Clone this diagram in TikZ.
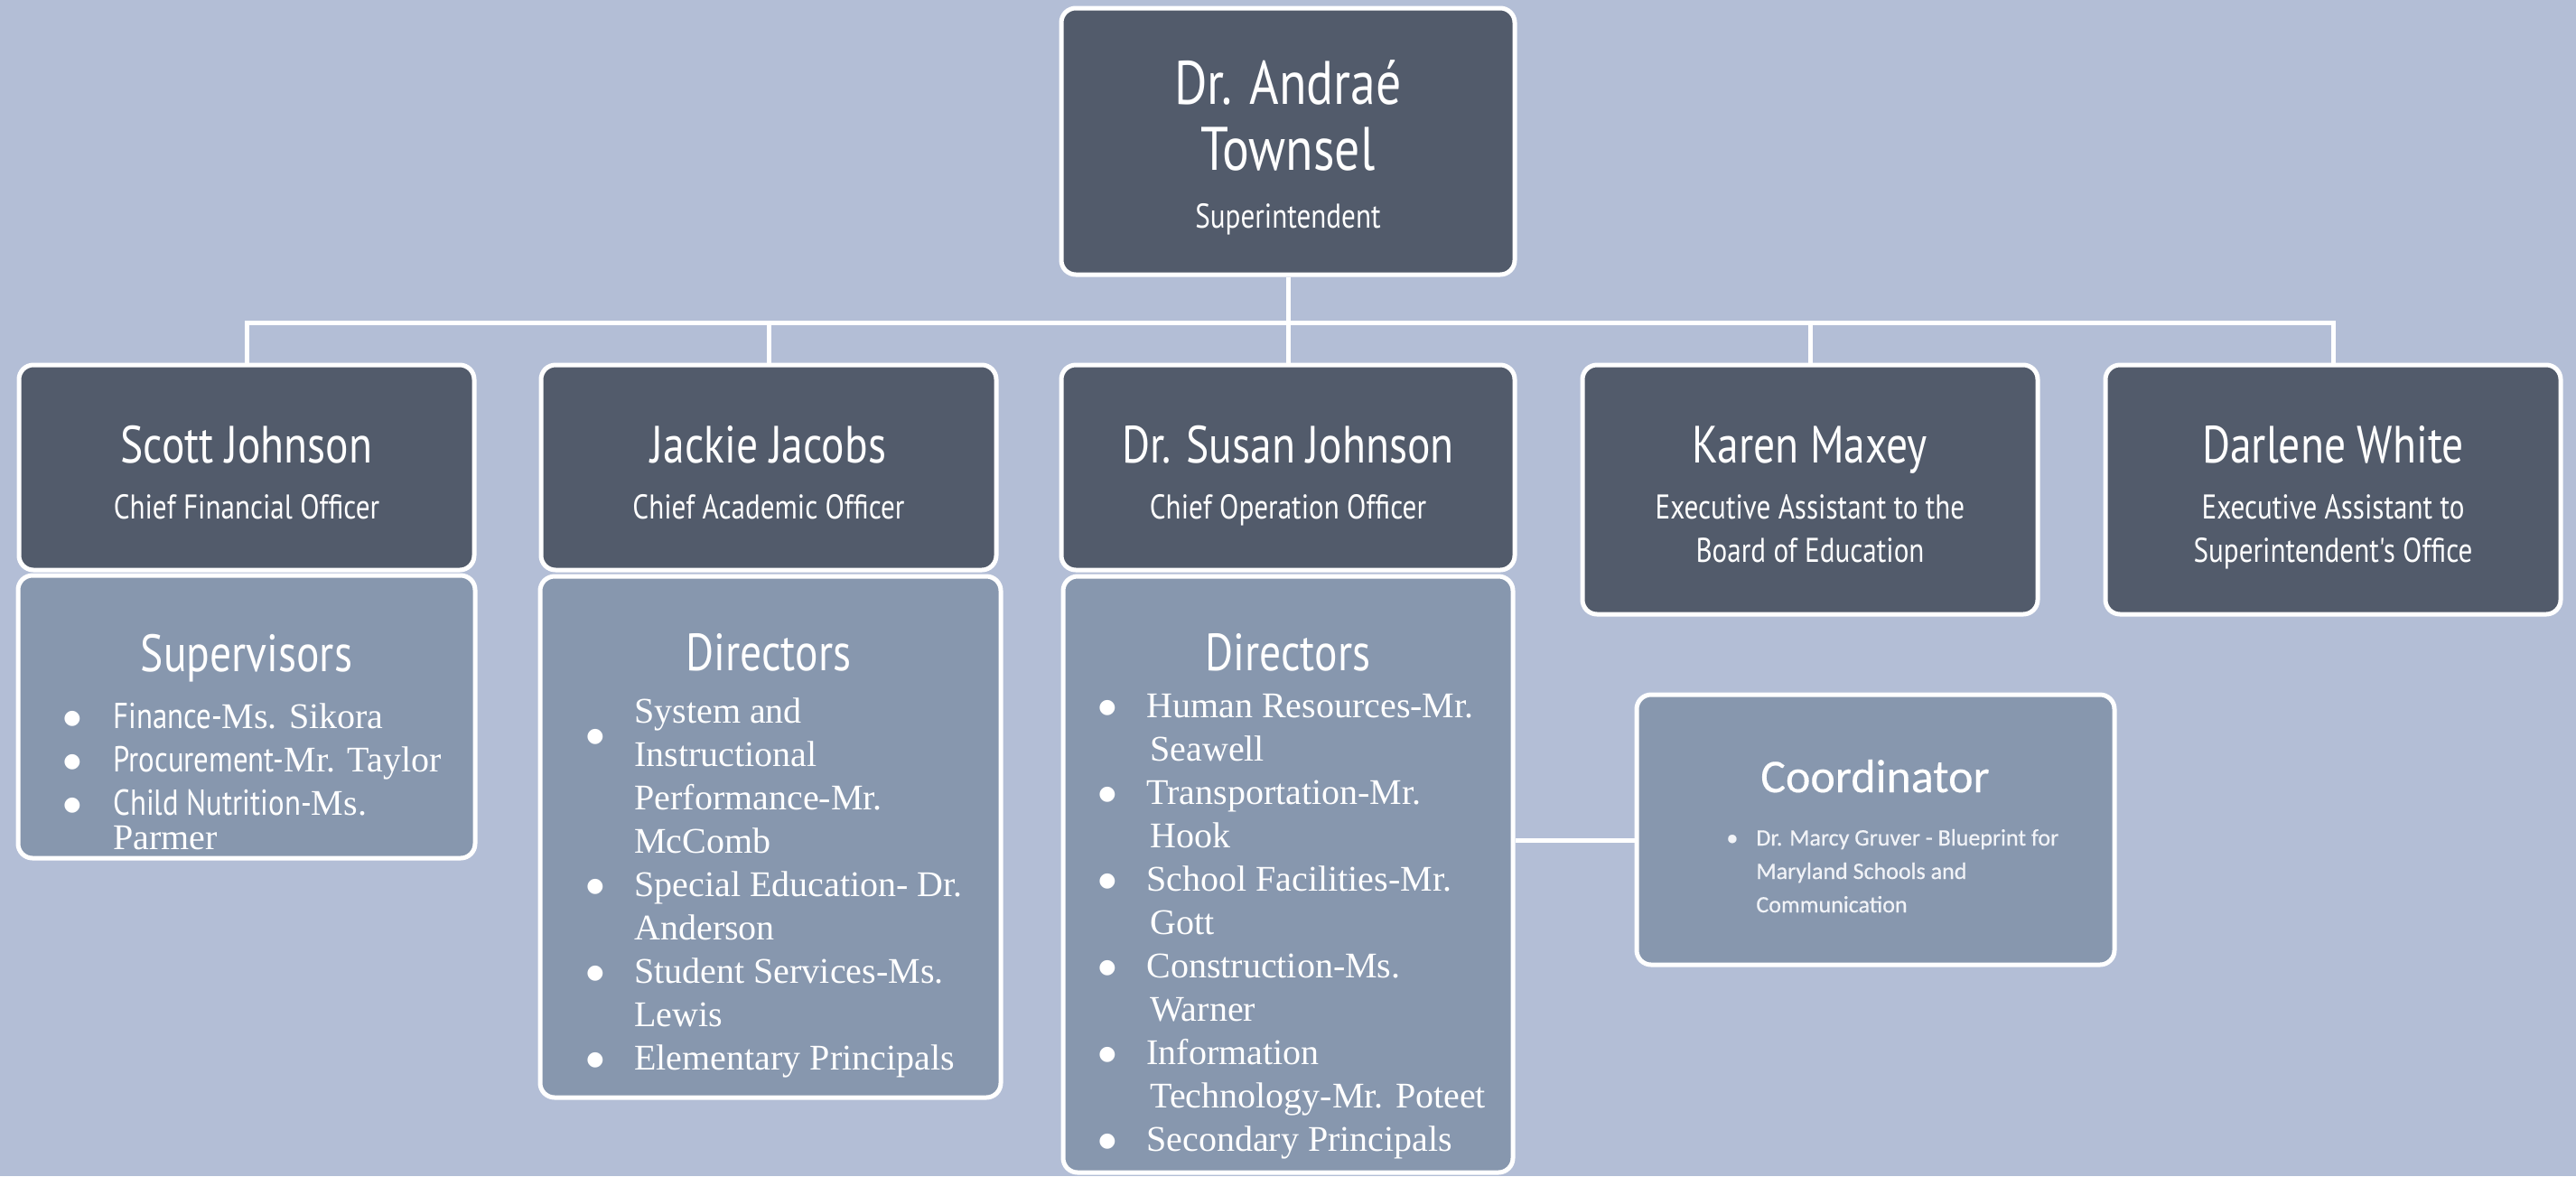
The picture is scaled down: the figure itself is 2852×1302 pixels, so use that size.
\documentclass[tikz,border=0pt]{standalone}
\usepackage{fontspec}
\setmainfont{Liberation Serif}
\newfontfamily\headfont[FakeStretch=0.82]{PT Sans}
\newfontfamily\calfont[FakeBold=0.3]{Carlito}
\newfontfamily\calheavy[FakeBold=0.6]{Carlito}
\newfontfamily\dotfont{DejaVu Sans}
\usetikzlibrary{positioning}

\definecolor{pagebg}{HTML}{B3BED6}
\definecolor{cardfill}{HTML}{525B6B}
\definecolor{panelfill}{HTML}{8797AE}
\definecolor{softwhite}{HTML}{F1F3F7}

\newcommand{\itm}[1][25.5pt]{\makebox[#1][l]{\raisebox{2.2pt}{\dotfont\fontsize{11}{11}\selectfont ●}}}

\begin{document}
\begin{tikzpicture}[x=0.5pt, y=-0.5pt,
	card/.style={draw=white, line width=2.5pt, rounded corners=8pt, fill=cardfill, inner sep=0pt, minimum width=252pt, minimum height=#1},
	panel/.style={draw=white, line width=2.5pt, rounded corners=8pt, fill=panelfill, inner sep=0pt},
	wire/.style={white, line width=2.5pt},
	who/.style={text=white, inner sep=0pt, anchor=base, font=\headfont\fontsize{29}{34}\selectfont},
	role/.style={text=white, inner sep=0pt, anchor=base, font=\headfont\fontsize{19}{24}\selectfont},
	unit/.style={text=white, inner sep=0pt, anchor=base, font=\headfont\fontsize{29}{34}\selectfont},
	roster/.style={text=white, inner sep=0pt, anchor=base west, font=\fontsize{20}{24}\selectfont}]

	\fill[pagebg] (0,0) rectangle (2852,1302);
	\useasboundingbox (0,0) rectangle (2852,1302);

	% top level and first row
	\node[card=147.5pt, minimum width=251pt] (super) at (1426,156.5) {};
	\node[card=113.5pt] (scott) at (273,517.5) {};
	\node[card=113.5pt] (jackie) at (851,517.5) {};
	\node[card=113.5pt, minimum width=251pt] (susan) at (1426,517.5) {};
	\node[card=138pt] (karen) at (2004,542) {};
	\node[card=138pt] (darlene) at (2583,542) {};

	% lists under the officers
	\node[panel, minimum width=253pt, minimum height=156.5pt] (scottsup) at (273,793.5) {};
	\node[panel, minimum width=255pt, minimum height=288.5pt] (jackiedir) at (853,926.5) {};
	\node[panel, minimum width=249pt, minimum height=330pt] (susandir) at (1426,968) {};
	\node[panel, minimum width=264.5pt, minimum height=149.5pt] (coord) at (2076.5,918.5) {};

	% connectors
	\path (super.south) ++(0,51) coordinate (bus);
	\foreach \n in {scott,jackie,susan,karen,darlene}
		\draw[wire] (super.south) -- (bus) -| (\n.north);
	\coordinate (clink) at ([yshift=-6pt]coord.west);
	\draw[wire] (clink) -- (clink -| susandir.east);

	% texts
	\node[who, font=\headfont\fontsize{34}{40}\selectfont] (supername) at (1426,115) {Dr. Andraé};
	\node[who, font=\headfont\fontsize{34}{40}\selectfont] (supername2) at (1426,188) {Townsel};
	\node[role] (superrole) at (1426,252) {Superintendent};

	\node[who] (scottname) at (273,512) {Scott Johnson};
	\node[role] (scottrole) at (273,574) {Chief Financial Officer};
	\node[who] (jackiename) at (851,512) {Jackie Jacobs};
	\node[role] (jackierole) at (851,574) {Chief Academic Officer};
	\node[who] (susanname) at (1426,512) {Dr. Susan Johnson};
	\node[role] (susanrole) at (1426,574) {Chief Operation Officer};
	\node[who] (karenname) at (2004,512) {Karen Maxey};
	\node[role] (karenrole) at (2004,574) {Executive Assistant to the};
	\node[role] (karenrole2) at (2004,622) {Board of Education};
	\node[who] (darlenename) at (2583,512) {Darlene White};
	\node[role] (darlenerole) at (2583,574) {Executive Assistant to};
	\node[role] (darlenerole2) at (2583,622) {Superintendent's Office};

	\node[unit] (suphead) at (273,743) {Supervisors};
	\node[unit] (jackiehead) at (851,742) {Directors};
	\node[unit] (susanhead) at (1426,742) {Directors};
	\node[unit, font=\calfont\fontsize{26}{30}\selectfont] (coordhead) at (2076,877) {Coordinator};

	\node[roster] (suplist) at (70,806) {\begin{tabular}[t]{@{}l@{}}
		\itm[27.5pt]{\headfont Finance-}Ms. Sikora\\
		\itm[27.5pt]{\headfont Procurement-}Mr. Taylor\\
		\itm[27.5pt]{\headfont Child Nutrition-}Ms.\\[-5pt]
		\hspace*{27.5pt}Parmer
	\end{tabular}};
	\node[roster] (jackielist) at (649,800) {\begin{tabular}[t]{@{}l@{}}
		\hspace*{26.5pt}System and\\
		\raisebox{11pt}[0pt][0pt]{\itm[26.5pt]}Instructional\\
		\hspace*{26.5pt}Performance-Mr.\\
		\hspace*{26.5pt}McComb\\
		\itm[26.5pt]Special Education- Dr.\\
		\hspace*{26.5pt}Anderson\\
		\itm[26.5pt]Student Services-Ms.\\
		\hspace*{26.5pt}Lewis\\
		\itm[26.5pt]Elementary Principals
	\end{tabular}};
	\node[roster] (susanlist) at (1216,794) {\begin{tabular}[t]{@{}l@{}}
		\itm[26.5pt]Human Resources-Mr.\\
		\hspace*{28.5pt}Seawell\\
		\itm[26.5pt]Transportation-Mr.\\
		\hspace*{28.5pt}Hook\\
		\itm[26.5pt]School Facilities-Mr.\\
		\hspace*{28.5pt}Gott\\
		\itm[26.5pt]Construction-Ms.\\
		\hspace*{28.5pt}Warner\\
		\itm[26.5pt]Information\\
		\hspace*{28.5pt}Technology-Mr. Poteet\\
		\itm[26.5pt]Secondary Principals
	\end{tabular}};
	\node[roster, text=softwhite, font=\calheavy\fontsize{13}{18.5}\selectfont] (coordlist) at (1911,936) {\begin{tabular}[t]{@{}l@{}}
		\makebox[16.5pt][l]{\textbullet}Dr. Marcy Gruver - Blueprint for\\
		\hspace*{16.5pt}Maryland Schools and\\
		\hspace*{16.5pt}Communication
	\end{tabular}};
\end{tikzpicture}
\end{document}
